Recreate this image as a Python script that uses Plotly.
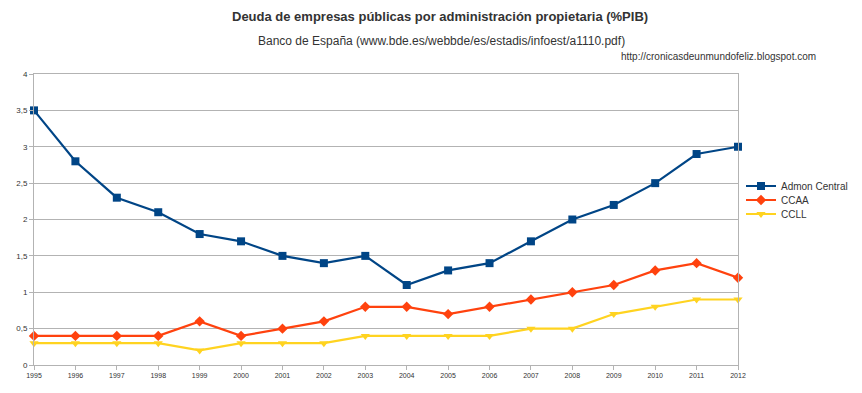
import plotly.graph_objects as go

years = list(range(1995, 2013))
admon_central = [3.5, 2.8, 2.3, 2.1, 1.8, 1.7, 1.5, 1.4, 1.5, 1.1, 1.3, 1.4, 1.7, 2.0, 2.2, 2.5, 2.9, 3.0]
ccaa = [0.4, 0.4, 0.4, 0.4, 0.6, 0.4, 0.5, 0.6, 0.8, 0.8, 0.7, 0.8, 0.9, 1.0, 1.1, 1.3, 1.4, 1.2]
ccll = [0.3, 0.3, 0.3, 0.3, 0.2, 0.3, 0.3, 0.3, 0.4, 0.4, 0.4, 0.4, 0.5, 0.5, 0.7, 0.8, 0.9, 0.9]
y_ticks = [0, 0.5, 1, 1.5, 2, 2.5, 3, 3.5, 4]
y_tick_labels = ["0", "0,5", "1", "1,5", "2", "2,5", "3", "3,5", "4"]

FONT = "Liberation Sans, Arial, sans-serif"
# the page body adds an 8px offset; work in window pixels and compensate
OFF = 8
W, H = 862 - OFF, 393 - OFF
L, R, T, B = 34, 738, 74, 365
PW, PH = R - L, B - T

def px_x(px):
    return (px - L) / PW

def px_y(py):
    return (B - py) / PH

fig = go.Figure()
fig.add_trace(go.Scatter(x=years, y=admon_central, name="Admon Central", mode="lines+markers",
                         line=dict(color="#004586", width=2.2),
                         marker=dict(symbol="square", size=8, color="#004586"), cliponaxis=False,
                         legend="legend"))
fig.add_trace(go.Scatter(x=years, y=ccaa, name="CCAA", mode="lines+markers",
                         line=dict(color="#ff420e", width=2.2),
                         marker=dict(symbol="diamond", size=8, color="#ff420e"), cliponaxis=False,
                         legend="legend2"))
fig.add_trace(go.Scatter(x=years, y=ccll, name="CCLL", mode="lines+markers",
                         line=dict(color="#ffd320", width=2.2),
                         marker=dict(symbol="triangle-down", size=8, color="#ffd320"), cliponaxis=False,
                         legend="legend3"))

leg_common = dict(xanchor="left", yanchor="middle", font=dict(size=10, color="#333333"),
                  bgcolor="rgba(0,0,0,0)", borderwidth=0, itemwidth=30)

fig.update_layout(
    width=W, height=H,
    margin=dict(l=L - OFF, r=W - (R - OFF), t=T - OFF, b=H - (B - OFF), autoexpand=False),
    paper_bgcolor="white", plot_bgcolor="white",
    font=dict(family=FONT, color="#333333"),
    showlegend=True,
    legend=dict(x=px_x(741), y=px_y(186), **leg_common),
    legend2=dict(x=px_x(741), y=px_y(200), **leg_common),
    legend3=dict(x=px_x(741), y=px_y(214), **leg_common),
    xaxis=dict(range=[1995, 2012], tickmode="array", tickvals=years, ticktext=[str(y) for y in years],
               showgrid=False, showline=True, linecolor="#b3b3b3", linewidth=1, mirror=True,
               ticks="outside", ticklen=4, tickcolor="#b3b3b3", tickfont=dict(size=7, color="#333333"),
               zeroline=False, automargin=False),
    yaxis=dict(range=[0, 4], tickmode="array", tickvals=y_ticks, ticktext=y_tick_labels,
               showgrid=True, gridcolor="#b3b3b3", gridwidth=1,
               showline=True, linecolor="#b3b3b3", linewidth=1, mirror=True,
               ticks="outside", ticklen=4, tickcolor="#b3b3b3", tickfont=dict(size=8, color="#333333"),
               zeroline=False, automargin=False),
    annotations=[
        dict(text="<b>Deuda de empresas públicas por administración propietaria (%PIB)</b>",
             xref="paper", yref="paper", x=px_x(440), y=px_y(8),
             xanchor="center", yanchor="top", borderpad=0, showarrow=False,
             font=dict(size=13, color="#333333")),
        dict(text="Banco de España (www.bde.es/webbde/es/estadis/infoest/a1110.pdf)",
             xref="paper", yref="paper", x=px_x(441), y=px_y(41),
             xanchor="center", yanchor="middle", showarrow=False, font=dict(size=12, color="#333333")),
        dict(text="http://cronicasdeunmundofeliz.blogspot.com",
             xref="paper", yref="paper", x=px_x(818), y=px_y(56),
             xanchor="right", yanchor="middle", showarrow=False, font=dict(size=10, color="#333333")),
    ],
)

fig.write_html("out.html")
